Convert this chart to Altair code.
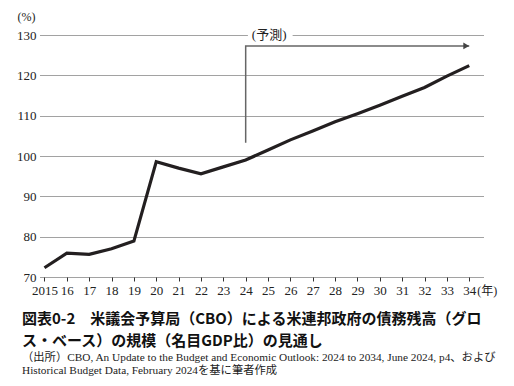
import altair as alt
import pandas as pd

years = list(range(2015, 2035))
debt = [72.3, 75.9, 75.6, 77.0, 78.9, 98.6, 97.0, 95.6, 97.3, 99.0,
        101.5, 104.0, 106.2, 108.5, 110.5, 112.6, 114.8, 117.0, 119.8, 122.4]

y_ticks = [70, 80, 90, 100, 110, 120, 130]

arrow_x = [2024, 2024, 2034]
arrow_y = [103.3, 127.3, 127.3]
arrow_order = [0, 1, 2]

forecast_label = "(予測)"
year_unit = "(年)"

title_lines = ["図表0-2　米議会予算局（CBO）による米連邦政府の債務残高（グロ",
               "ス・ベース）の規模（名目GDP比）の見通し"]
source_lines = ["（出所）CBO, An Update to the Budget and Economic Outlook: 2024 to 2034, June 2024, p4、および",
                "Historical Budget Data, February 2024を基に筆者作成"]

NUMFONT = "'Liberation Serif', 'Times New Roman', Tinos, 'DejaVu Serif', serif"
SERIF = "'Liberation Serif', 'Times New Roman', 'Noto Sans CJK JP', serif"
INK = "#222222"

df = pd.DataFrame({"x": years, "y": debt})
arrow_df = pd.DataFrame({"x": arrow_x, "y": arrow_y, "o": arrow_order})

xscale = alt.Scale(domain=[2014.8, 2034.66], nice=False, zero=False)
yscale = alt.Scale(domain=[70, 130], nice=False, zero=False)

x_axis = alt.Axis(values=years, title=None, grid=False, domain=False,
                  tickSize=4, tickColor="#333333", tickWidth=1,
                  labelPadding=3, labelFont=NUMFONT, labelFontSize=13,
                  labelColor=INK, labelFlush=False, labelOverlap=False,
                  labelExpr="datum.value == 2015 ? '2015' : substring(toString(datum.value), 2, 4)")
y_axis = alt.Axis(values=y_ticks, title="(%)", titleAngle=0, titleX=-14, titleY=-12,
                  titleAlign="center", titleFont=NUMFONT, titleFontSize=12,
                  titleFontWeight="normal", titleColor=INK,
                  grid=True, gridDash=[1, 1], gridColor="#444444", gridWidth=1,
                  domain=False, ticks=False, labelPadding=4, labelOverlap=False,
                  labelFont=NUMFONT, labelFontSize=13, labelColor=INK)

X = alt.X("x:Q", scale=xscale, axis=x_axis)
Y = alt.Y("y:Q", scale=yscale, axis=y_axis)

line = alt.Chart(df).mark_line(color="#231f20", strokeWidth=3.2, strokeJoin="miter").encode(
    x=X, y=Y,
)

arrow_line = alt.Chart(arrow_df).mark_line(color="#666666", strokeWidth=1.5).encode(
    x=X, y=Y, order="o:Q",
)

arrow_head = alt.Chart(arrow_df.tail(1)).mark_point(
    shape="triangle-right", filled=True, color="#444444", size=45, opacity=1
).encode(
    x=X, y=Y, xOffset=alt.value(-3),
)

label_bg = alt.Chart(pd.DataFrame({"x": [2024.1], "x2": [2026.1], "y": [129], "y2": [131]})).mark_rect(
    color="white"
).encode(
    x=X, x2="x2:Q", y=Y, y2="y2:Q",
)

label = alt.Chart(pd.DataFrame({"x": [2025.05], "y": [130], "t": [forecast_label]})).mark_text(
    font=SERIF, fontSize=13, color=INK, baseline="middle", align="center"
).encode(
    x=X, y=Y, text="t:N",
)

unit = alt.Chart(pd.DataFrame({"x": [2034], "y": [70], "t": [year_unit]})).mark_text(
    font=SERIF, fontSize=12, color=INK, baseline="middle", align="left", dx=8, dy=14
).encode(
    x=X, y=Y, text="t:N",
)

chart = alt.layer(line, label_bg, label, arrow_line, arrow_head, unit).properties(
    width=444,
    height=242,
    autosize=alt.AutoSizeParams(type="none"),
    padding={"left": 32, "top": 27, "right": 22, "bottom": 101},
    title=alt.TitleParams(
        text=title_lines,
        subtitle=source_lines,
        orient="bottom",
        anchor="start",
        frame="group",
        dx=-18,
        offset=15,
        font="Noto Sans CJK JP",
        fontSize=15,
        fontWeight="bold",
        color="#111111",
        lineHeight=22,
        subtitleFont=SERIF,
        subtitleFontSize=11.3,
        subtitleColor=INK,
        subtitleLineHeight=13,
        subtitlePadding=3,
    ),
).configure_view(stroke=None)

chart.save("out.html", embed_options={"renderer": "svg", "actions": False})
